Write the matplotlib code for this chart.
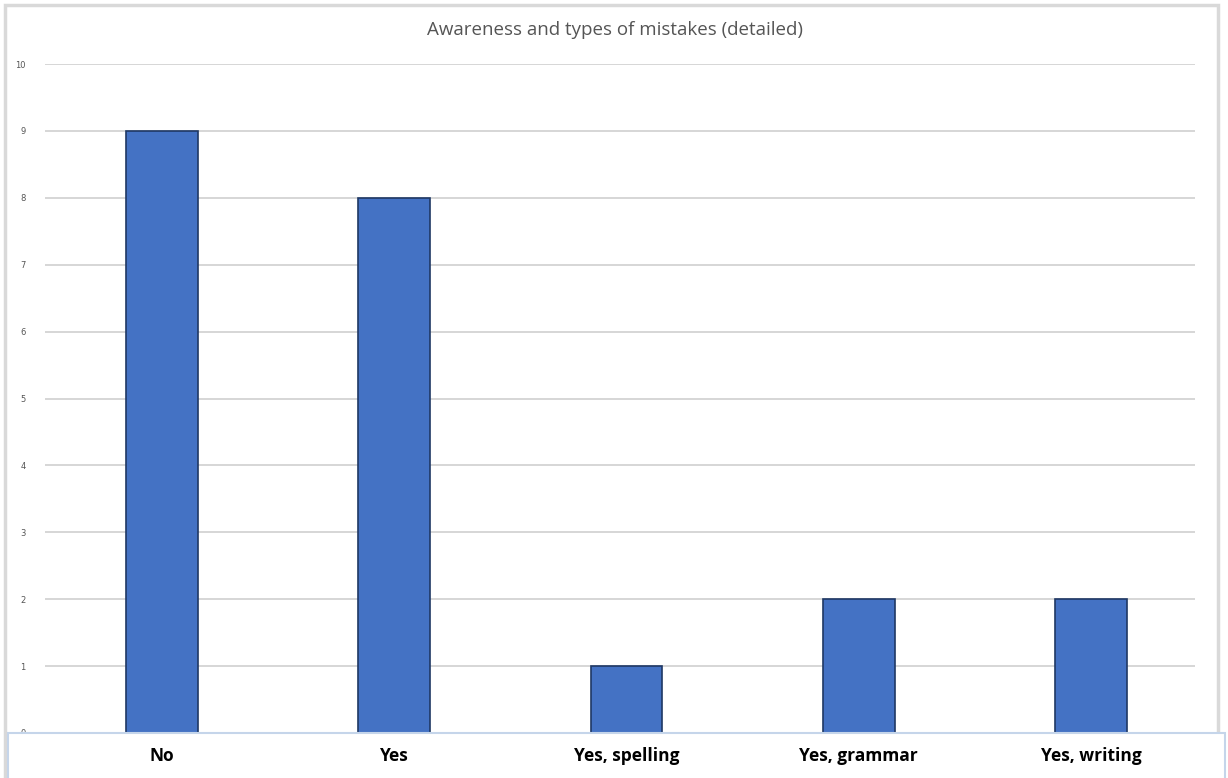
import matplotlib.pyplot as plt
from matplotlib.patches import Rectangle
from matplotlib.transforms import blended_transform_factory

categories = ["No", "Yes", "Yes, spelling", "Yes, grammar", "Yes, writing"]
counts = [9, 8, 1, 2, 2]
y_ticks = list(range(0, 11))

W, H = 1228, 778
fig = plt.figure(figsize=(W / 100, H / 100), dpi=100)
fig.patch.set_facecolor("white")

# outer chart frame
fig.add_artist(Rectangle((5 / W, 0), 1213 / W, (H - 5) / H, transform=fig.transFigure,
                         fill=False, edgecolor="#d9d9d9", linewidth=2.5, zorder=0))

left, right = 45 / W, 1195 / W
bottom, top = (H - 733) / H, (H - 64) / H
ax = fig.add_axes([left, bottom, right - left, top - bottom])
ax.set_facecolor("white")

x = list(range(len(categories)))
ax.bar(x, counts, width=0.31, color="#4472c4", edgecolor="#1f3864", linewidth=1.2, zorder=3)

# category spacing is a bit wider than the gridline span / 5
ax.set_xlim(-0.504, 4.448)
ax.set_ylim(0, 10)
ax.set_yticks(y_ticks)
ax.set_yticklabels([str(v) for v in y_ticks], fontsize=6, color="#555555")
ax.tick_params(axis="y", length=0, pad=14)
ax.set_xticks([])
ax.yaxis.grid(True, color="#d0d0d0", linewidth=1.2, zorder=0)
for s in ax.spines.values():
    s.set_visible(False)

# label band beneath the bars
fig.add_artist(Rectangle((8 / W, -0.01), 1217 / W, 45 / H + 0.01, transform=fig.transFigure,
                         facecolor="white", edgecolor="#c5d5ea", linewidth=1.5, zorder=4))
trans = blended_transform_factory(ax.transData, fig.transFigure)
for xi, name in zip(x, categories):
    fig.text(xi, (H - 756) / H, name, transform=trans, ha="center", va="center",
             fontsize=12.5, fontweight="bold", family="Open Sans", color="black", zorder=5)

fig.text(615 / W, (H - 30) / H, "Awareness and types of mistakes (detailed)",
         ha="center", va="center", fontsize=13.5, color="#555555", family="Open Sans")

fig.savefig("out.png", dpi=100)
